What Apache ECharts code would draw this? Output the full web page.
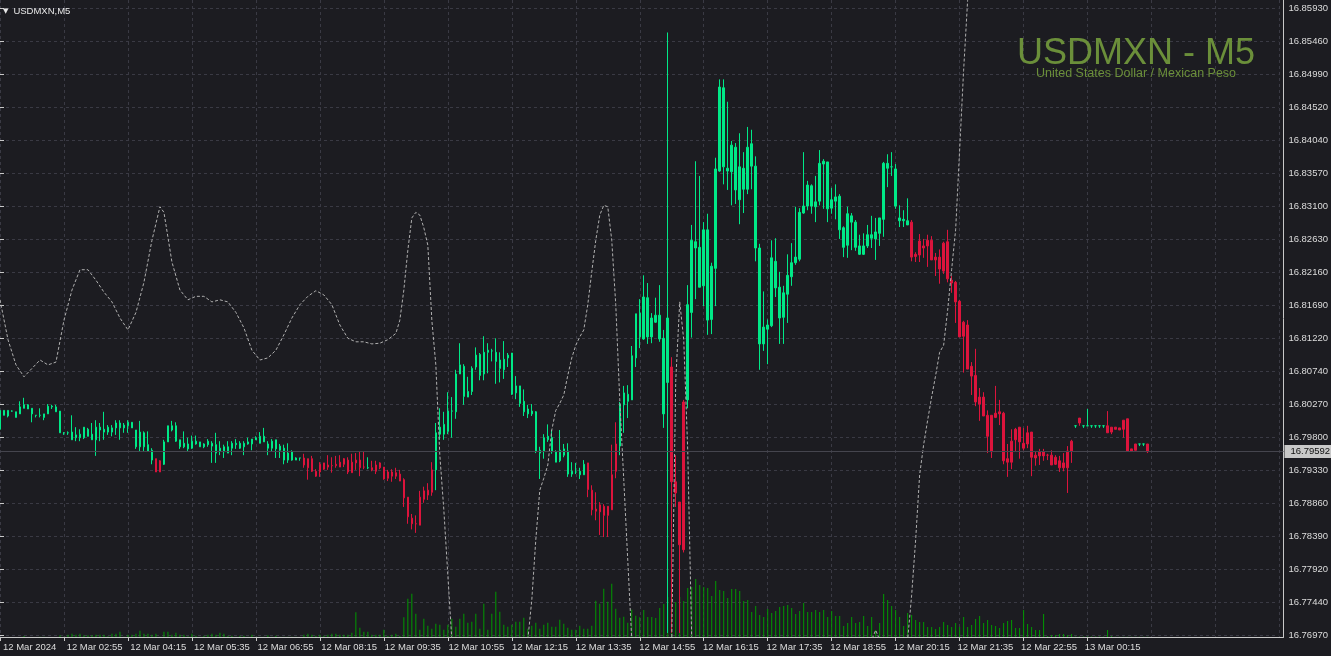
<!DOCTYPE html>
<html><head><meta charset="utf-8">
<script src="https://cdn.jsdelivr.net/npm/echarts/dist/echarts.min.js"></script>
<style>html,body{margin:0;padding:0;background:#1c1c21;}#c{width:1331px;height:656px;}</style>
</head><body><div id="c"></div>
<script>
// ---- data ----
const symbolTitle = 'USDMXN - M5';
const symbolSubtitle = 'United States Dollar / Mexican Peso';
const chartTag = 'USDMXN,M5';
const startUTC = Date.UTC(2024, 2, 12, 1, 35);
const barMinutes = 5;
const emptySlots = 34;
const priceTicks = ['16.76970','16.77440','16.77920','16.78390','16.78860','16.79330','16.79800','16.80270','16.80740','16.81220',
  '16.81690','16.82160','16.82630','16.83100','16.83570','16.84040','16.84520','16.84990','16.85460','16.85930'];
const priceMin = 16.76942, priceMax = 16.86044;
const bidPrice = 16.79592;
// [open, close, low, high]
const candles = [
 [16.7991,16.8018,16.7991,16.8018],
 [16.8011,16.8018,16.8011,16.8018],[16.8010,16.8018,16.8008,16.8018],[16.8017,16.8017,16.8016,16.8018],[16.8008,16.8016,16.8008,16.8016],[16.8013,16.8023,16.8013,16.8031],
 [16.8021,16.8026,16.8021,16.8036],[16.8020,16.8026,16.8020,16.8027],[16.8013,16.8021,16.8001,16.8021],[16.8011,16.8011,16.8008,16.8011],[16.8011,16.8011,16.8008,16.8021],
 [16.8008,16.8013,16.8004,16.8013],[16.8013,16.8024,16.8013,16.8027],[16.8023,16.8024,16.8020,16.8026],[16.8016,16.8023,16.8016,16.8026],[16.7986,16.8017,16.7986,16.8017],
 [16.7986,16.7986,16.7983,16.7987],[16.7986,16.7986,16.7983,16.7988],[16.7976,16.7987,16.7976,16.8011],[16.7979,16.7983,16.7974,16.7994],[16.7979,16.7984,16.7974,16.7991],
 [16.7979,16.7994,16.7977,16.7994],[16.7981,16.7991,16.7981,16.7993],[16.7976,16.7984,16.7976,16.8000],[16.7976,16.7994,16.7953,16.8004],[16.7990,16.7994,16.7974,16.8000],
 [16.7987,16.7991,16.7976,16.8016],[16.7987,16.7994,16.7983,16.7997],[16.7987,16.7993,16.7981,16.7997],[16.7993,16.8000,16.7983,16.8004],[16.7993,16.8000,16.7976,16.8004],
 [16.7993,16.7997,16.7986,16.8000],[16.7996,16.8001,16.7986,16.8004],[16.7993,16.8001,16.7993,16.8001],[16.7966,16.7990,16.7963,16.7990],[16.7966,16.7987,16.7960,16.8003],
 [16.7966,16.7986,16.7960,16.7988],[16.7960,16.7969,16.7960,16.7988],[16.7947,16.7961,16.7941,16.7964],[16.7949,16.7930,16.7930,16.7949],[16.7946,16.7930,16.7930,16.7947],
 [16.7941,16.7973,16.7940,16.7976],[16.7973,16.7996,16.7973,16.7996],[16.7990,16.7996,16.7988,16.8003],[16.7974,16.7996,16.7973,16.8001],[16.7966,16.7976,16.7963,16.7976],
 [16.7966,16.7971,16.7964,16.7988],[16.7963,16.7970,16.7960,16.7979],[16.7964,16.7974,16.7963,16.7982],[16.7970,16.7974,16.7969,16.7982],[16.7966,16.7973,16.7966,16.7973],
 [16.7966,16.7970,16.7964,16.7971],[16.7969,16.7974,16.7966,16.7977],[16.7967,16.7971,16.7943,16.7974],[16.7957,16.7969,16.7943,16.7986],[16.7960,16.7964,16.7954,16.7974],
 [16.7959,16.7966,16.7950,16.7969],[16.7957,16.7966,16.7957,16.7974],[16.7964,16.7971,16.7954,16.7974],[16.7969,16.7971,16.7963,16.7977],[16.7964,16.7971,16.7963,16.7974],
 [16.7966,16.7971,16.7954,16.7974],[16.7970,16.7973,16.7969,16.7979],[16.7970,16.7977,16.7961,16.7977],[16.7976,16.7979,16.7976,16.7981],[16.7971,16.7981,16.7971,16.7987],
 [16.7973,16.7981,16.7973,16.7993],[16.7964,16.7970,16.7954,16.7974],[16.7964,16.7974,16.7959,16.7977],[16.7963,16.7976,16.7950,16.7976],[16.7961,16.7967,16.7950,16.7970],
 [16.7947,16.7964,16.7941,16.7969],[16.7947,16.7957,16.7943,16.7971],[16.7947,16.7959,16.7946,16.7961],[16.7947,16.7950,16.7947,16.7951],[16.7950,16.7950,16.7946,16.7950],
 [16.7950,16.7940,16.7936,16.7956],[16.7949,16.7936,16.7919,16.7949],[16.7949,16.7931,16.7930,16.7953],[16.7931,16.7924,16.7923,16.7934],[16.7941,16.7930,16.7923,16.7944],
 [16.7943,16.7934,16.7933,16.7943],[16.7940,16.7937,16.7933,16.7954],[16.7939,16.7939,16.7929,16.7951],[16.7941,16.7939,16.7936,16.7953],[16.7944,16.7937,16.7937,16.7954],
 [16.7949,16.7941,16.7937,16.7950],[16.7947,16.7930,16.7927,16.7951],[16.7944,16.7929,16.7929,16.7956],[16.7947,16.7943,16.7933,16.7957],[16.7947,16.7936,16.7924,16.7959],
 [16.7937,16.7937,16.7934,16.7960],[16.7936,16.7936,16.7934,16.7951],[16.7936,16.7933,16.7931,16.7946],[16.7940,16.7931,16.7927,16.7946],[16.7943,16.7936,16.7934,16.7944],
 [16.7937,16.7920,16.7919,16.7937],[16.7930,16.7921,16.7917,16.7933],[16.7930,16.7924,16.7916,16.7934],[16.7929,16.7924,16.7920,16.7936],[16.7927,16.7917,16.7917,16.7933],
 [16.7919,16.7893,16.7880,16.7921],[16.7894,16.7866,16.7856,16.7894],[16.7864,16.7856,16.7848,16.7870],[16.7856,16.7856,16.7843,16.7868],[16.7894,16.7854,16.7854,16.7903],
 [16.7903,16.7891,16.7886,16.7909],[16.7904,16.7897,16.7890,16.7914],[16.7933,16.7901,16.7896,16.7944],[16.7933,16.7986,16.7904,16.8000],[16.7984,16.7994,16.7976,16.8021],
 [16.7984,16.7998,16.7976,16.8016],[16.7988,16.8017,16.7984,16.8044],[16.8017,16.8017,16.7979,16.8037],[16.8016,16.8070,16.8006,16.8076],[16.8070,16.8083,16.8070,16.8114],
 [16.8038,16.8081,16.8026,16.8084],[16.8037,16.8045,16.8037,16.8066],[16.8045,16.8078,16.8040,16.8081],[16.8080,16.8097,16.8076,16.8108],[16.8068,16.8098,16.8061,16.8100],
 [16.8070,16.8101,16.8061,16.8124],[16.8101,16.8104,16.8071,16.8114],[16.8103,16.8103,16.8088,16.8106],[16.8088,16.8101,16.8056,16.8121],[16.8078,16.8090,16.8058,16.8101],
 [16.8076,16.8091,16.8063,16.8117],[16.8093,16.8097,16.8080,16.8100],[16.8041,16.8100,16.8040,16.8100],[16.8043,16.8053,16.8034,16.8067],[16.8028,16.8053,16.8023,16.8053],
 [16.8016,16.8031,16.8010,16.8048],[16.8013,16.8020,16.8007,16.8026],[16.8013,16.8017,16.8010,16.8027],[16.7959,16.8016,16.7957,16.8017],[16.7957,16.7961,16.7920,16.7966],
 [16.7960,16.7979,16.7949,16.7984],[16.7976,16.7981,16.7973,16.7998],[16.7959,16.7979,16.7956,16.7990],[16.7944,16.7959,16.7944,16.7961],[16.7946,16.7961,16.7944,16.7990],
 [16.7954,16.7963,16.7951,16.7970],[16.7927,16.7960,16.7923,16.7971],[16.7927,16.7931,16.7923,16.7944],[16.7930,16.7930,16.7927,16.7943],[16.7926,16.7931,16.7920,16.7936],
 [16.7926,16.7941,16.7926,16.7947],[16.7943,16.7905,16.7894,16.7943],[16.7904,16.7876,16.7868,16.7911],[16.7877,16.7874,16.7861,16.7901],[16.7883,16.7873,16.7840,16.7887],
 [16.7881,16.7868,16.7837,16.7884],[16.7881,16.7868,16.7837,16.7881],[16.7926,16.7876,16.7876,16.7969],[16.7970,16.7931,16.7921,16.8001],[16.7967,16.8027,16.7954,16.8030],
 [16.8026,16.8043,16.7986,16.8053],[16.8031,16.8041,16.8007,16.8054],[16.8033,16.8096,16.8033,16.8110],[16.8093,16.8156,16.8080,16.8156],[16.8123,16.8157,16.8107,16.8177],
 [16.8120,16.8180,16.8119,16.8211],[16.8123,16.8179,16.8113,16.8200],[16.8123,16.8150,16.8114,16.8157],[16.8144,16.8154,16.8143,16.8179],[16.8120,16.8154,16.8116,16.8197],
 [16.8013,16.8121,16.7993,16.8133],[16.8058,16.8150,16.7700,16.8558],[16.8080,16.7916,16.7700,16.8094],[16.7916,16.7900,16.7880,16.7954],[16.7887,16.7826,16.7700,16.7887],
 [16.8030,16.7819,16.7815,16.8033],[16.8033,16.8169,16.8021,16.8197],[16.8158,16.8261,16.8122,16.8283],[16.8250,16.8259,16.8177,16.8374],[16.8194,16.8251,16.8194,16.8353],
 [16.8196,16.8276,16.8167,16.8287],[16.8147,16.8276,16.8126,16.8299],[16.8148,16.8224,16.8127,16.8229],[16.8221,16.8363,16.8167,16.8379],[16.8360,16.8480,16.8359,16.8491],
 [16.8366,16.8479,16.8341,16.8491],[16.8360,16.8364,16.8333,16.8459],[16.8359,16.8397,16.8311,16.8403],[16.8333,16.8394,16.8313,16.8400],[16.8319,16.8366,16.8284,16.8414],
 [16.8334,16.8364,16.8300,16.8387],[16.8334,16.8394,16.8327,16.8423],[16.8367,16.8399,16.8334,16.8419],[16.8250,16.8367,16.8231,16.8381],[16.8113,16.8250,16.8076,16.8256],
 [16.8113,16.8137,16.8103,16.8188],[16.8134,16.8140,16.8084,16.8148],[16.8139,16.8236,16.8137,16.8261],[16.8193,16.8231,16.8180,16.8264],[16.8150,16.8194,16.8113,16.8216],
 [16.8151,16.8186,16.8113,16.8196],[16.8184,16.8211,16.8143,16.8241],[16.8209,16.8229,16.8196,16.8257],[16.8229,16.8237,16.8226,16.8309],[16.8234,16.8301,16.8231,16.8307],
 [16.8300,16.8310,16.8299,16.8387],[16.8310,16.8340,16.8304,16.8346],[16.8310,16.8339,16.8299,16.8341],[16.8309,16.8316,16.8287,16.8353],[16.8317,16.8371,16.8311,16.8390],
 [16.8370,16.8374,16.8306,16.8377],[16.8306,16.8373,16.8287,16.8373],[16.8307,16.8319,16.8299,16.8336],[16.8317,16.8323,16.8291,16.8341],[16.8276,16.8324,16.8263,16.8327],
 [16.8251,16.8279,16.8237,16.8281],[16.8254,16.8299,16.8236,16.8309],[16.8287,16.8296,16.8247,16.8300],[16.8251,16.8287,16.8246,16.8290],[16.8241,16.8253,16.8240,16.8269],
 [16.8241,16.8253,16.8240,16.8271],[16.8253,16.8269,16.8250,16.8283],[16.8264,16.8269,16.8250,16.8296],[16.8263,16.8273,16.8233,16.8293],[16.8271,16.8293,16.8253,16.8293],
 [16.8291,16.8371,16.8266,16.8373],[16.8364,16.8371,16.8337,16.8384],[16.8366,16.8366,16.8353,16.8387],[16.8310,16.8363,16.8306,16.8370],[16.8289,16.8293,16.8280,16.8311],
 [16.8289,16.8291,16.8280,16.8304],[16.8283,16.8289,16.8283,16.8321],[16.8287,16.8237,16.8231,16.8290],[16.8241,16.8238,16.8230,16.8244],[16.8260,16.8240,16.8230,16.8270],
 [16.8253,16.8250,16.8236,16.8263],[16.8261,16.8253,16.8223,16.8269],[16.8261,16.8233,16.8233,16.8267],[16.8237,16.8233,16.8210,16.8243],[16.8237,16.8220,16.8199,16.8248],
 [16.8257,16.8217,16.8213,16.8259],[16.8259,16.8206,16.8201,16.8276],[16.8204,16.8200,16.8186,16.8210],[16.8201,16.8173,16.8143,16.8203],[16.8174,16.8123,16.8123,16.8176],
 [16.8144,16.8124,16.8072,16.8146],[16.8140,16.8077,16.8077,16.8147],[16.8081,16.8067,16.8040,16.8087],[16.8068,16.8030,16.8024,16.8106],[16.8037,16.8027,16.8003,16.8050],
 [16.8037,16.8010,16.8010,16.8044],[16.8011,16.7981,16.7957,16.8018],[16.8011,16.7959,16.7950,16.8011],[16.8014,16.8008,16.8007,16.8053],[16.8016,16.8013,16.7997,16.8033],
 [16.8014,16.7946,16.7941,16.8016],[16.7949,16.7944,16.7923,16.7970],[16.7974,16.7944,16.7934,16.7991],[16.7991,16.7976,16.7960,16.7993],[16.7994,16.7973,16.7949,16.7994],
 [16.7971,16.7964,16.7961,16.7993],[16.7986,16.7970,16.7964,16.7996],[16.7987,16.7951,16.7924,16.7987],[16.7954,16.7950,16.7939,16.7959],[16.7959,16.7953,16.7940,16.7963],
 [16.7959,16.7953,16.7946,16.7963],[16.7954,16.7954,16.7947,16.7956],[16.7954,16.7940,16.7940,16.7961],[16.7951,16.7941,16.7940,16.7954],[16.7946,16.7936,16.7930,16.7953],
 [16.7943,16.7936,16.7931,16.7957],[16.7960,16.7936,16.7900,16.7967],[16.7974,16.7960,16.7943,16.7976],[16.7996,16.7996,16.7993,16.7996],[16.8007,16.8000,16.7996,16.8007],
 [16.7996,16.7996,16.7993,16.7996],[16.7996,16.7996,16.7996,16.8020],[16.7996,16.7996,16.7993,16.7996],[16.7996,16.7996,16.7993,16.7996],[16.7996,16.7996,16.7993,16.7996],
 [16.7996,16.7996,16.7993,16.7996],[16.7996,16.7986,16.7986,16.8017],[16.7994,16.7987,16.7984,16.7994],[16.7994,16.7991,16.7991,16.7994],[16.7993,16.7990,16.7990,16.7993],
 [16.8004,16.7991,16.7979,16.8004],[16.8006,16.7960,16.7960,16.8006],[16.7963,16.7960,16.7960,16.7963],[16.7970,16.7961,16.7961,16.7970],[16.7970,16.7970,16.7967,16.7970],
 [16.7970,16.7970,16.7967,16.7970],[16.7970,16.7959,16.7957,16.7970]
];
// bar ranges (0 = first bar) drawn in the bearish trend colour
const redRuns = [[39,40],[76,91],[93,108],[147,154],[168,171],[228,268],[270,270],[277,284],[287,287]];
// tick volume per bar
const volumes = [
 0,0,0,0,0,0,10,0,0,0, 3,3,0,0,0,17,3,23,33,23,
 33,17,17,17,23,23,23,7,33,33, 53,3,23,23,33,63,33,33,23,33,
 3,53,53,23,43,23,23,7,33,13, 3,13,23,33,23,43,33,13,13,3,
 13,13,3,23,3,3,3,17,3,13, 3,3,3,3,3,0,23,33,23,13,
 23,13,23,33,33,23,23,23,43,247, 93,53,53,23,23,23,73,13,23,33,
 13,197,383,433,233,73,183,113,83,133, 123,73,123,183,103,183,233,143,153,233,
 83,333,73,233,453,253,123,103,123,153, 153,193,83,113,143,83,123,143,103,103,
 173,133,93,73,73,113,83,83,113,363, 333,483,353,533,283,193,203,143,273,213,
 197,270,200,200,190,290,330,400,450,350, 400,360,490,500,580,520,500,490,410,560,
 470,460,390,480,480,460,360,370,250,310, 220,200,280,240,260,300,310,320,290,230,
 260,340,250,250,270,250,270,200,260,210, 210,110,140,200,140,150,210,110,200,70,
 140,430,370,310,270,200,110,240,220,170, 150,150,100,100,80,100,150,120,100,140,
 100,200,100,120,180,210,140,170,120,110, 90,140,160,170,90,90,270,130,100,70,
 70,230,10,20,20,30,30,20,30,5, 5,5,5,5,5,5,5,70,10,3,
 3,3,3,3,3,3,3,3
];
// dashed oscillator line: bar index and value (on the price scale)
const oscBars = [0,2,4,6,8,10,12,14,16,18,20,22,24,26,28,30,32,34,36,38,40,41,43,45,47,49,51,53,55,57,59,61,63,65,67,69,71,73,75,77,79,81,83,85,87,89,91,93,95,97,99,100,101,102,103,104,105,106,107,108,109,110,111,112,113,
 132,133,134,135,136,137,138,139,140,141,142,143,144,145,146,147,148,149,150,151,152,153,154,155,156,157,158,
 168,169,170,171,172,173,218,219,220,227,228,229,230,231,232,233,234,235,236,237,238,239,240,241,242,243];
const oscValues = [16.8176,16.8119,16.8083,16.8066,16.8078,16.8090,16.8083,16.8087,16.8147,16.8190,16.8219,16.8219,16.8204,16.8187,16.8173,16.8150,16.8133,16.8158,16.8201,16.8261,16.8309,16.8301,16.8230,16.8190,16.8176,16.8181,16.8181,16.8173,16.8176,16.8173,16.8158,16.8136,16.8104,16.8090,16.8093,16.8104,16.8126,16.8150,16.8169,16.8181,16.8189,16.8183,16.8169,16.8140,16.8121,16.8116,16.8116,16.8113,16.8114,16.8119,16.8128,16.8147,16.8190,16.8247,16.8293,16.8301,16.8297,16.8279,16.8254,16.8147,16.8083,16.7954,16.7876,16.7783,16.7690,
 16.7690,16.7747,16.7833,16.7904,16.7921,16.7940,16.7990,16.8018,16.8028,16.8040,16.8068,16.8093,16.8111,16.8123,16.8133,16.8169,16.8216,16.8261,16.8297,16.8311,16.8309,16.8261,16.8169,16.8033,16.7919,16.7804,16.7690,
 16.7690,16.8061,16.8173,16.8119,16.7961,16.7690,16.7690,16.7704,16.7690,16.7690,16.7754,16.7833,16.7926,16.7969,16.8004,16.8037,16.8068,16.8101,16.8111,16.8161,16.8219,16.8276,16.8390,16.8504,16.8604,16.8633];

// ---- build ----
const bull = '#00e887', bear = '#dc143c';
const isRed = i => redRuns.some(r => i >= r[0] && i <= r[1]);
const pad = n => String(n).padStart(2, '0');
const cats = [];
for (let i = 0; i < candles.length + emptySlots; i++) {
  if (i < candles.length) {
    const d = new Date(startUTC + i * barMinutes * 60000);
    cats.push(d.getUTCDate() + ' Mar ' + pad(d.getUTCHours()) + ':' + pad(d.getUTCMinutes()));
  } else cats.push('');
}
const candleData = candles.map((c, i) => {
  const col = isRed(i) ? bear : bull;
  return { value: c, itemStyle: { color: col, color0: col, borderColor: col, borderColor0: col, borderColorDoji: col } };
});
const labelEvery = (i, v) => i % 16 === 0 && v !== '';
const font = 'Liberation Sans, Arial, sans-serif';
const axisCol = '#c8c8c8', gridCol = '#3a3a44';

const chart = echarts.init(document.getElementById('c'), null, { renderer: 'canvas' });
chart.setOption({
  backgroundColor: '#1c1c21',
  animation: false,
  title: [
    { text: symbolTitle, subtext: symbolSubtitle, left: 1131, top: 31, textAlign: 'center', itemGap: -5,
      textStyle: { color: '#6b8f3a', fontSize: 36, fontWeight: 'normal', fontFamily: font },
      subtextStyle: { color: '#6b8f3a', fontSize: 12.5, fontFamily: font } },
    { text: '{t|▼} {s|' + chartTag + '}', left: 3, top: 2, padding: 0,
      textStyle: { rich: { t: { color: '#e8e8e8', fontSize: 7, fontFamily: 'DejaVu Sans', fontWeight: 'normal' },
                           s: { color: '#e8e8e8', fontSize: 9.5, fontFamily: font, fontWeight: 'normal' } } } }
  ],
  grid: [
    { left: -0.5, right: 47.5, top: 0, bottom: 19, containLabel: false },
    { left: -0.5, right: 47.5, top: 8, bottom: 21, containLabel: false },
    { left: -4.5, right: 51.5, top: 0, bottom: 19, containLabel: false }
  ],
  xAxis: [
    { type: 'category', gridIndex: 0, data: cats, boundaryGap: false,
      axisLine: { show: true, lineStyle: { color: axisCol, width: 1 } },
      axisTick: { show: true, interval: labelEvery, length: 4, lineStyle: { color: axisCol } },
      axisLabel: { show: false },
      splitLine: { show: true, interval: (i) => i % 16 === 0, lineStyle: { color: gridCol, type: [3, 3], width: 1 } } },
    { type: 'value', gridIndex: 1, show: false, min: 0, max: 1 },
    { type: 'category', gridIndex: 2, data: cats, boundaryGap: false,
      axisLine: { show: false }, axisTick: { show: false }, splitLine: { show: false },
      axisLabel: { interval: labelEvery, formatter: (v, i) => i === 0 ? '12 Mar 2024' : v, align: 'left',
        color: '#dcdcdc', fontSize: 9.5, fontFamily: font, margin: 5 } }
  ],
  yAxis: [
    { type: 'value', gridIndex: 0, position: 'right', min: priceMin, max: priceMax,
      axisLine: { show: true, lineStyle: { color: axisCol } }, axisTick: { show: false }, axisLabel: { show: false }, splitLine: { show: false } },
    { type: 'value', gridIndex: 0, min: 0, max: 6370, show: false, splitLine: { show: false } },
    { type: 'category', gridIndex: 1, position: 'right', data: priceTicks, boundaryGap: false,
      axisLine: { show: false }, axisTick: { show: true, length: 4, lineStyle: { color: axisCol } },
      axisLabel: { color: '#dcdcdc', fontSize: 9.5, fontFamily: font, margin: 10, interval: 0 },
      splitLine: { show: true, interval: 0, lineStyle: { color: gridCol, type: [3, 3], width: 1 } } },
    { type: 'value', gridIndex: 2, show: false, min: 0, max: 1 }
  ],
  series: [
    { type: 'bar', name: 'Volume', xAxisIndex: 0, yAxisIndex: 1, data: volumes, barWidth: 1, silent: true,
      itemStyle: { color: '#009a00' }, z: 1 },
    { type: 'candlestick', name: 'USDMXN', xAxisIndex: 0, yAxisIndex: 0, data: candleData, barWidth: 2, clip: true, z: 2,
      itemStyle: { borderWidth: 1 } },
    { type: 'line', name: 'Oscillator', xAxisIndex: 0, yAxisIndex: 0, data: oscBars.map((b, j) => [b, oscValues[j]]),
      showSymbol: false, symbol: 'none', clip: true, silent: true, z: 3,
      lineStyle: { color: '#b0b0b0', width: 1, type: [3, 2] } },
    { type: 'line', name: 'Bid', xAxisIndex: 0, yAxisIndex: 0, data: [], silent: true, z: 1,
      markLine: { silent: true, symbol: 'none', animation: false, precision: 5,
        lineStyle: { color: '#45454e', type: 'solid', width: 1 },
        label: { show: true, position: 'end', distance: 1, formatter: bidPrice.toFixed(5), color: '#101010',
          backgroundColor: '#c8c8c8', padding: [2, 6, 1, 6], fontSize: 9.5, fontFamily: font },
        data: [{ yAxis: bidPrice }] } }
  ]
});
</script></body></html>
